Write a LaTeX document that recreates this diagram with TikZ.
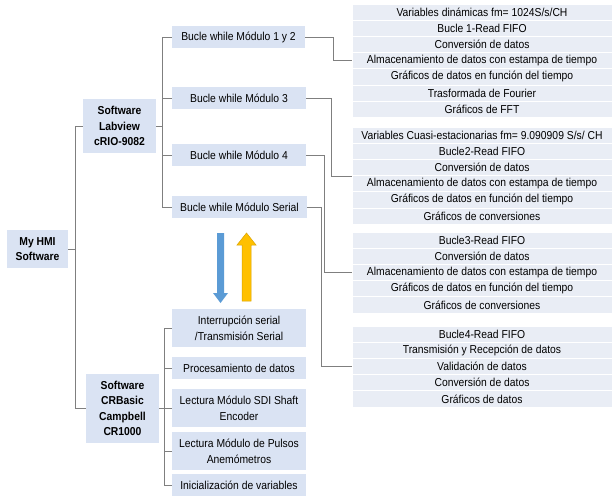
\documentclass[tikz,border=0pt]{standalone}
\usepackage{fontspec}
\setmainfont{Liberation Sans}[FakeStretch=0.9]
\usetikzlibrary{calc}
\definecolor{boxblue}{HTML}{DAE3F3}
\definecolor{rowblue}{HTML}{E9EDF5}
\definecolor{linegray}{HTML}{7F7F7F}
\definecolor{arrblue}{HTML}{5B9BD5}
\definecolor{arryellow}{HTML}{FFC000}
\tikzset{
    hmibox/.style={fill=boxblue, align=center, inner sep=1pt,
        font=\fontsize{11.5}{15.8}\selectfont},
    rowbox/.style={fill=rowblue, draw=white, line width=0.8pt,
        minimum width=260pt, minimum height=16.2pt, inner sep=0pt,
        font=\fontsize{11.5}{12}\selectfont},
    tree/.style={draw=linegray, line width=0.9pt}
}
\begin{document}
\begin{tikzpicture}[x=1pt,y=-1pt]
    \useasboundingbox [fill=white] (0,0) rectangle (615,495);
    % left part of the tree
    \node (root) [hmibox, minimum width=61pt, minimum height=38pt, font=\bfseries\fontsize{11.5}{15.5}\selectfont] at (37.5,249) {My HMI\\Software};
    \node (labview) [hmibox, minimum width=73pt, minimum height=54pt, font=\bfseries\fontsize{11.5}{15.5}\selectfont] at (119.5,126) {Software\\Labview\\cRIO-9082};
    \node (crbasic) [hmibox, minimum width=73pt, minimum height=69pt, font=\bfseries\fontsize{11.5}{15.5}\selectfont] at (122.5,408.5) {Software\\CRBasic\\Campbell\\CR1000};
    \node (m12) [hmibox, minimum width=133pt, minimum height=22pt] at (238.5,37) {Bucle while Módulo 1 y 2};
    \node (m3) [hmibox, minimum width=134pt, minimum height=22pt] at (239,98) {Bucle while Módulo 3};
    \node (m4) [hmibox, minimum width=134pt, minimum height=22pt] at (239,155) {Bucle while Módulo 4};
    \node (mser) [hmibox, minimum width=135pt, minimum height=22pt] at (239.5,207) {Bucle while Módulo Serial};
    \node (c1) [hmibox, minimum width=134pt, minimum height=38pt] at (239,328) {Interrupción serial\\/Transmisión Serial};
    \node (c2) [hmibox, minimum width=134pt, minimum height=22pt] at (239,368) {Procesamiento de datos};
    \node (c3) [hmibox, minimum width=134pt, minimum height=38pt] at (239,408) {Lectura Módulo SDI Shaft\\Encoder};
    \node (c4) [hmibox, minimum width=134pt, minimum height=38pt] at (239,451) {Lectura Módulo de Pulsos\\Anemómetros};
    \node (c5) [hmibox, minimum width=134pt, minimum height=22pt] at (239,485) {Inicialización de variables};
    % right column
    \foreach \txt [count=\i] in {Variables dinámicas fm= 1024S/s/CH, Bucle 1-Read FIFO,
        Conversión de datos, Almacenamiento de datos con estampa de tiempo,
        Gráficos de datos en función del tiempo, Trasformada de Fourier, Gráficos de FFT}
        \node (g1r\i) [rowbox] at (482,{4+16.2*(\i-0.5)}) {\txt};
    \foreach \txt [count=\i] in {Variables Cuasi-estacionarias fm= 9.090909 S/s/ CH, Bucle2-Read FIFO,
        Conversión de datos, Almacenamiento de datos con estampa de tiempo,
        Gráficos de datos en función del tiempo, Gráficos de conversiones}
        \node (g2r\i) [rowbox] at (482,{127+16.2*(\i-0.5)}) {\txt};
    \foreach \txt [count=\i] in {Bucle3-Read FIFO, Conversión de datos,
        Almacenamiento de datos con estampa de tiempo,
        Gráficos de datos en función del tiempo, Gráficos de conversiones}
        \node (g3r\i) [rowbox] at (482,{232+16.2*(\i-0.5)}) {\txt};
    \foreach \txt [count=\i] in {Bucle4-Read FIFO, Transmisión y Recepción de datos,
        Validación de datos, Conversión de datos, Gráficos de datos}
        \node (g4r\i) [rowbox] at (482,{326+16.2*(\i-0.5)}) {\txt};
    % connectors
    \draw [tree] (root.east) -- ++(8,0);
    \draw [tree] (labview.west) -- ++(-7,0) |- (crbasic.west);
    \draw [tree] (labview.east) -- ++(7,0);
    \draw [tree] (m12.west) -- ++(-9,0) |- (mser.west);
    \draw [tree] (m3.west) -- ++(-9,0);
    \draw [tree] (m4.west) -- ++(-9,0);
    \draw [tree] (crbasic.east) -- ++(6,0);
    \draw [tree] (c1.west) -- ++(-7,0) |- (c5.west);
    \foreach \c in {c2,c3,c4}
        \draw [tree] (\c.west) -- ++(-7,0);
    \draw [tree] (m12.east) -- ++(28,0) |- (g1r4.west);
    \draw [tree] (m3.east) -- ++(25,0) |- (g2r3.south west);
    \draw [tree] (m4.east) -- ++(18,0) |- (g3r3.west);
    \draw [tree] (mser.east) -- ++(14,0) |- (g4r3.west);
    % arrows between the two programs
    \fill [arrblue] (217,233) -- (224,233) -- (224,293) -- (228,293) -- (220.5,303)
        -- (213,293) -- (217,293) -- cycle;
    \filldraw [fill=arryellow, draw=arryellow!85!black, line width=0.5pt] (242,301) -- (251,301) -- (251,245) -- (256,245)
        -- (246.5,233) -- (237,245) -- (242,245) -- cycle;
\end{tikzpicture}
\end{document}
